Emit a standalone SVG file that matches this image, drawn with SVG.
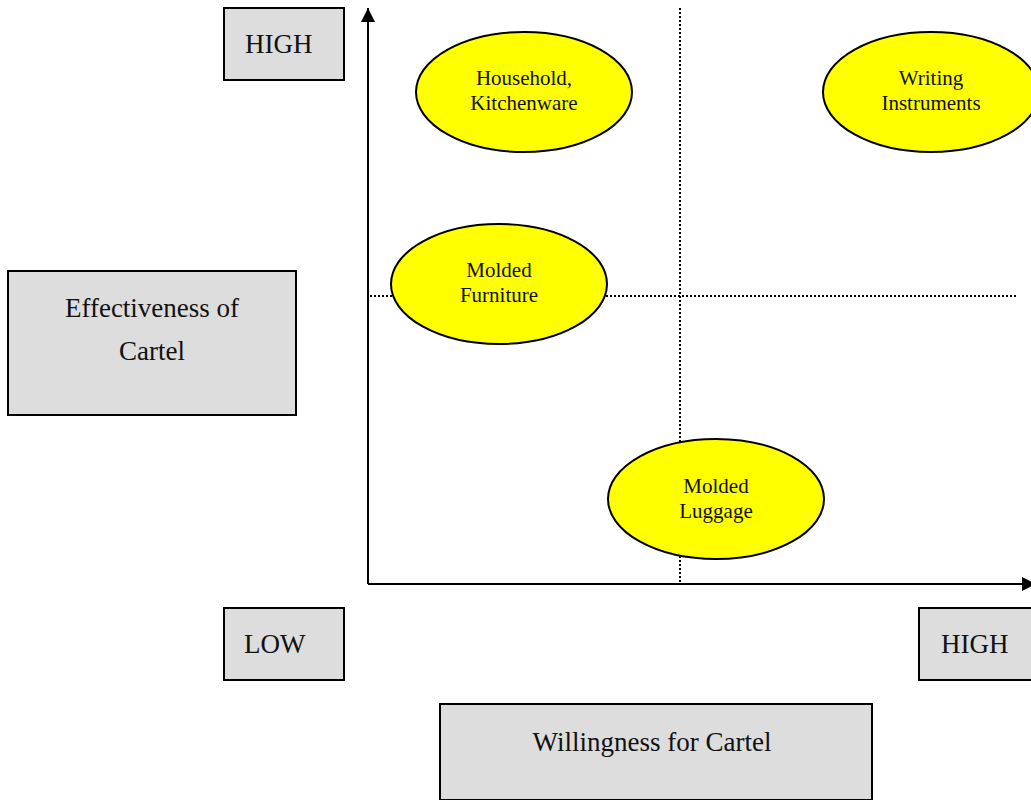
<svg xmlns="http://www.w3.org/2000/svg" width="1031" height="800" viewBox="0 0 1031 800">
<style>
.box{fill:#dddddd;stroke:#000;stroke-width:2}
.ell{fill:#ffff00;stroke:#000;stroke-width:2}
.lbl{font-family:"Liberation Serif","Times New Roman",serif;font-size:27px;fill:#111}
.et{font-family:"Liberation Serif","Times New Roman",serif;font-size:21px;fill:#111;text-anchor:middle}
.axis{stroke:#000;stroke-width:2;fill:none}
.dot{stroke:#000;stroke-width:2;stroke-dasharray:2 2;fill:none}
</style>
<defs>
<marker id="arr" viewBox="0 0 10 10" refX="10" refY="5" markerWidth="7" markerHeight="7" markerUnits="strokeWidth" orient="auto">
<path d="M0,0 L10,5 L0,10 z" fill="#000"/>
</marker>
</defs>
<rect width="1031" height="800" fill="#fff"/>
<g id="connectors">
<line class="dot" x1="680" y1="8" x2="680" y2="584"/>
<line class="dot" x1="370" y1="296" x2="1016" y2="296"/>
<line class="axis" x1="368" y1="584" x2="368" y2="8" marker-end="url(#arr)"/>
<line class="axis" x1="368" y1="584" x2="1036" y2="584" marker-end="url(#arr)"/>
</g>
<g id="high-top">
<rect class="box" x="224" y="8" width="120" height="72"/>
<text class="lbl" x="245" y="53">HIGH</text>
</g>
<g id="low">
<rect class="box" x="224" y="608" width="120" height="72"/>
<text class="lbl" x="244" y="653">LOW</text>
</g>
<g id="high-right">
<rect class="box" x="919" y="608" width="120" height="72"/>
<text class="lbl" x="941" y="653">HIGH</text>
</g>
<g id="effectiveness">
<rect class="box" x="8" y="271" width="288" height="144"/>
<text class="lbl" x="152" y="317" text-anchor="middle">Effectiveness of</text>
<text class="lbl" x="152" y="360" text-anchor="middle">Cartel</text>
</g>
<g id="willingness">
<rect class="box" x="440" y="704" width="432" height="96"/>
<text class="lbl" x="652" y="751" text-anchor="middle">Willingness for Cartel</text>
</g>
<g id="household">
<ellipse class="ell" cx="524" cy="92" rx="108" ry="60"/>
<text class="et" x="524" y="85">Household,</text>
<text class="et" x="524" y="110">Kitchenware</text>
</g>
<g id="writing">
<ellipse class="ell" cx="931" cy="92" rx="108" ry="60"/>
<text class="et" x="931" y="85">Writing</text>
<text class="et" x="931" y="110">Instruments</text>
</g>
<g id="furniture">
<ellipse class="ell" cx="499" cy="284" rx="108" ry="60"/>
<text class="et" x="499" y="277">Molded</text>
<text class="et" x="499" y="302">Furniture</text>
</g>
<g id="luggage">
<ellipse class="ell" cx="716" cy="499" rx="108" ry="60"/>
<text class="et" x="716" y="493">Molded</text>
<text class="et" x="716" y="518">Luggage</text>
</g>
</svg>
